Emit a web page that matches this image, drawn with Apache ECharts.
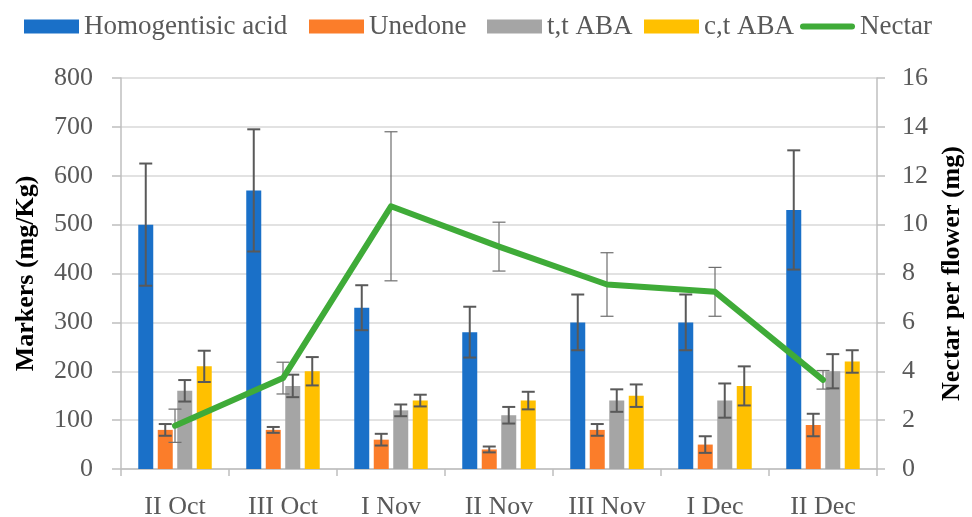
<!DOCTYPE html>
<html>
<head>
<meta charset="utf-8">
<title>Markers and nectar per flower</title>
<script src="https://cdn.jsdelivr.net/npm/echarts@6/dist/echarts.min.js"></script>
<style>
  html, body { margin: 0; padding: 0; background: #ffffff; }
  #chart { width: 972px; height: 517px; }
</style>
</head>
<body>
<div id="chart"></div>
<script>
// Sampling periods
const categories = ['II Oct', 'III Oct', 'I Nov', 'II Nov', 'III Nov', 'I Dec', 'II Dec'];

// Markers (mg/Kg) with standard deviations
const homogentisic    = [500, 570, 330, 280, 300, 300, 530];
const homogentisicErr = [125, 125, 46, 52, 57, 57, 122];
const unedone         = [80, 80, 60, 40, 80, 50, 90];
const unedoneErr      = [12, 6, 12, 6, 12, 17, 23];
const ttABA           = [160, 170, 120, 110, 140, 140, 200];
const ttABAErr        = [22, 23, 12, 17, 23, 35, 35];
const ctABA           = [210, 200, 140, 140, 150, 170, 220];
const ctABAErr        = [32, 29, 12, 18, 23, 40, 23];

// Nectar per flower (mg) with standard deviations
const nectar    = [1.77, 3.72, 10.75, 9.1, 7.55, 7.25, 3.65];
const nectarErr = [0.68, 0.65, 3.05, 1.0, 1.3, 1.0, 0.38];

// Axis ticks
const leftTicks  = { min: 0, max: 800, interval: 100 };
const rightTicks = { min: 0, max: 16, interval: 2 };

const FONT = 'Liberation Serif';
const LABEL_GREY = '#595959';
const AXIS_GREY = '#bfbfbf';
const NECTAR_GREEN = '#3fab38';
const BAR_WIDTH = 15;
const BAR_GAP = 4.5;

const barSeriesDefs = [
  { name: 'Homogentisic acid', values: homogentisic, errors: homogentisicErr, color: '#1a70c8' },
  { name: 'Unedone',           values: unedone,      errors: unedoneErr,      color: '#fb7d2a' },
  { name: 't,t ABA',           values: ttABA,        errors: ttABAErr,        color: '#a5a5a5' },
  { name: 'c,t ABA',           values: ctABA,        errors: ctABAErr,        color: '#ffc000' }
];

// Error bar: vertical whisker with two caps
function whisker(api, xOffset, capHalf, color, width) {
  const idx = api.value(0);
  const lo = api.coord([idx, api.value(1)]);
  const hi = api.coord([idx, api.value(2)]);
  const x = lo[0] + xOffset;
  const style = { stroke: color, lineWidth: width };
  return {
    type: 'group',
    children: [
      { type: 'line', shape: { x1: x, y1: lo[1], x2: x, y2: hi[1] }, style: style },
      { type: 'line', shape: { x1: x - capHalf, y1: hi[1], x2: x + capHalf, y2: hi[1] }, style: style },
      { type: 'line', shape: { x1: x - capHalf, y1: lo[1], x2: x + capHalf, y2: lo[1] }, style: style }
    ]
  };
}

const series = [];
const n = barSeriesDefs.length;
barSeriesDefs.forEach(function (def) {
  series.push({
    name: def.name,
    type: 'bar',
    yAxisIndex: 0,
    data: def.values,
    barWidth: BAR_WIDTH,
    barGap: (BAR_GAP / BAR_WIDTH * 100) + '%',
    itemStyle: { color: def.color },
    z: 2
  });
});
barSeriesDefs.forEach(function (def, k) {
  const offset = (k - (n - 1) / 2) * (BAR_WIDTH + BAR_GAP);
  series.push({
    name: def.name + ' SD',
    type: 'custom',
    yAxisIndex: 0,
    data: def.values.map(function (v, i) { return [i, v - def.errors[i], v + def.errors[i]]; }),
    encode: { x: 0, y: [1, 2] },
    renderItem: function (params, api) { return whisker(api, offset, 6.5, '#595959', 2); },
    silent: true,
    z: 3
  });
});
series.push({
  name: 'Nectar SD',
  type: 'custom',
  yAxisIndex: 1,
  data: nectar.map(function (v, i) { return [i, v - nectarErr[i], v + nectarErr[i]]; }),
  encode: { x: 0, y: [1, 2] },
  renderItem: function (params, api) { return whisker(api, 0, 6.5, '#6e6e6e', 1.2); },
  silent: true,
  z: 4
});
series.push({
  name: 'Nectar',
  type: 'line',
  yAxisIndex: 1,
  data: nectar,
  symbol: 'none',
  lineStyle: { color: NECTAR_GREEN, width: 6, cap: 'round', join: 'round' },
  itemStyle: { color: NECTAR_GREEN },
  z: 5
});

// One legend entry per component so each sits at its own left offset
const legendTextStyle = { fontFamily: FONT, fontSize: 27, color: LABEL_GREY };
const legendEntries = [
  { name: 'Homogentisic acid', left: 19,  icon: 'rect', h: 14 },
  { name: 'Unedone',           left: 304, icon: 'rect', h: 14 },
  { name: 't,t ABA',           left: 482, icon: 'rect', h: 14 },
  { name: 'c,t ABA',           left: 639, icon: 'rect', h: 14 },
  { name: 'Nectar',            left: 795,
    icon: 'path://M3,0 L52,0 A3,3 0 0 1 52,6 L3,6 A3,3 0 0 1 3,0 Z', h: 6 }
];
const legends = legendEntries.map(function (e) {
  return {
    data: [{ name: e.name, icon: e.icon }],
    left: e.left,
    top: 8,
    itemWidth: 55,
    itemHeight: e.h,
    textStyle: legendTextStyle
  };
});

const chart = echarts.init(document.getElementById('chart'), null, { renderer: 'canvas' });
chart.setOption({
  animation: false,
  backgroundColor: '#ffffff',
  textStyle: { fontFamily: FONT },
  legend: legends,
  grid: { left: 121, right: 95, top: 78, bottom: 48, containLabel: false, outerBoundsMode: 'none' },
  xAxis: {
    type: 'category',
    data: categories,
    boundaryGap: true,
    axisLine: { lineStyle: { color: AXIS_GREY, width: 1.5 } },
    axisTick: { show: true, length: 7, lineStyle: { color: AXIS_GREY, width: 1.5 } },
    axisLabel: { fontFamily: FONT, fontSize: 26, color: LABEL_GREY, margin: 25 }
  },
  yAxis: [
    {
      type: 'value',
      min: leftTicks.min, max: leftTicks.max, interval: leftTicks.interval,
      name: 'Markers (mg/Kg)',
      nameLocation: 'middle',
      nameRotate: 90,
      nameGap: 82,
      nameTextStyle: { fontFamily: FONT, fontSize: 26, fontWeight: 'bold', color: '#000000' },
      axisLine: { show: true, lineStyle: { color: AXIS_GREY, width: 1.5 } },
      axisTick: { show: true, length: 9, lineStyle: { color: AXIS_GREY, width: 1.5 } },
      axisLabel: { fontFamily: FONT, fontSize: 26, color: LABEL_GREY, margin: 28 },
      splitLine: { show: true, lineStyle: { color: '#d9d9d9', width: 1.5 } }
    },
    {
      type: 'value',
      position: 'right',
      min: rightTicks.min, max: rightTicks.max, interval: rightTicks.interval,
      name: 'Nectar per flower (mg)',
      nameLocation: 'middle',
      nameRotate: 90,
      nameGap: 60,
      nameTextStyle: { fontFamily: FONT, fontSize: 26, fontWeight: 'bold', color: '#000000' },
      axisLine: { show: true, lineStyle: { color: AXIS_GREY, width: 1.5 } },
      axisTick: { show: true, length: 8, lineStyle: { color: AXIS_GREY, width: 1.5 } },
      axisLabel: { fontFamily: FONT, fontSize: 26, color: LABEL_GREY, margin: 25 },
      splitLine: { show: false }
    }
  ],
  series: series
});
</script>
</body>
</html>
